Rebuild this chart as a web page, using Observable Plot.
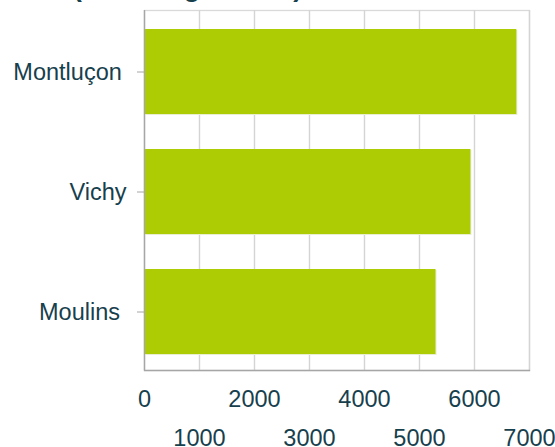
<!DOCTYPE html>
<html>
<head>
<meta charset="utf-8">
<script src="https://cdn.jsdelivr.net/npm/d3@7"></script>
<script src="https://cdn.jsdelivr.net/npm/@observablehq/plot@0.6"></script>
<style>
  html, body { margin: 0; padding: 0; background: #fff; overflow: hidden; }
  body { width: 555px; height: 447px; position: relative; font-family: "Liberation Sans", Arial, sans-serif; }
  #title { position: absolute; left: 73px; top: -25.5px; font-size: 26.6px; font-weight: bold; line-height: 1; color: #17404d; white-space: nowrap; }
  #chart { position: absolute; left: 0; top: 0; }
</style>
</head>
<body>
<div id="title">(nb de logements)</div>
<div id="chart"></div>
<script>
const cities = ["Montluçon", "Vichy", "Moulins"];
const cityLabels = ["Montluçon\u2009", "Vichy", "Moulins\u00a0"];
const values = [6770, 5935, 5300];
const tickValues = [0, 1000, 2000, 3000, 4000, 5000, 6000, 7000];
const evenTicks = [0, 2000, 4000, 6000];
const oddTicks = [1000, 3000, 5000, 7000];

const data = cities.map((c, i) => ({city: c, value: values[i]}));
const textColor = "#17404d";
const font = "Liberation Sans, Arial, sans-serif";

const chart = Plot.plot({
  width: 555,
  height: 447,
  marginTop: 10,
  marginBottom: 77,
  marginLeft: 144,
  marginRight: 26,
  style: {fontFamily: font, fontSize: "23.5px", color: textColor, background: "transparent"},
  x: {domain: [0, 7000], label: null},
  y: {domain: cities, paddingInner: 0.29, paddingOuter: 0.145, align: 0.55, label: null},
  marks: [
    Plot.frame({stroke: "#d9d9d9", strokeWidth: 1.3}),
    Plot.gridX(tickValues, {stroke: "#d4d4d4", strokeOpacity: 1, strokeWidth: 1.4}),
    Plot.barX(data, {x: "value", y: "city", fill: "#e8eed0", dx: 1, dy: 1}),
    Plot.barX(data, {x: "value", y: "city", fill: "#adcc04"}),
    Plot.ruleX([0], {stroke: "#a6a6a6", strokeWidth: 1.3}),
    Plot.frame({anchor: "bottom", stroke: "#a6a6a6", strokeWidth: 1.3}),
    Plot.axisY({tickSize: 7, tickPadding: 11, tickFormat: (d) => cityLabels[cities.indexOf(d)], stroke: "#a6a6a6", fill: textColor, fontSize: 23.5, fontFamily: font, label: null}),
    Plot.axisX(evenTicks, {tickSize: 0, tickPadding: 20, tickFormat: "d", fill: textColor, fontSize: 23.5, fontFamily: font, label: null}),
    Plot.axisX(oddTicks, {tickSize: 0, tickPadding: 59, tickFormat: "d", fill: textColor, fontSize: 23.5, fontFamily: font, label: null})
  ]
});
document.getElementById("chart").appendChild(chart);
</script>
</body>
</html>
